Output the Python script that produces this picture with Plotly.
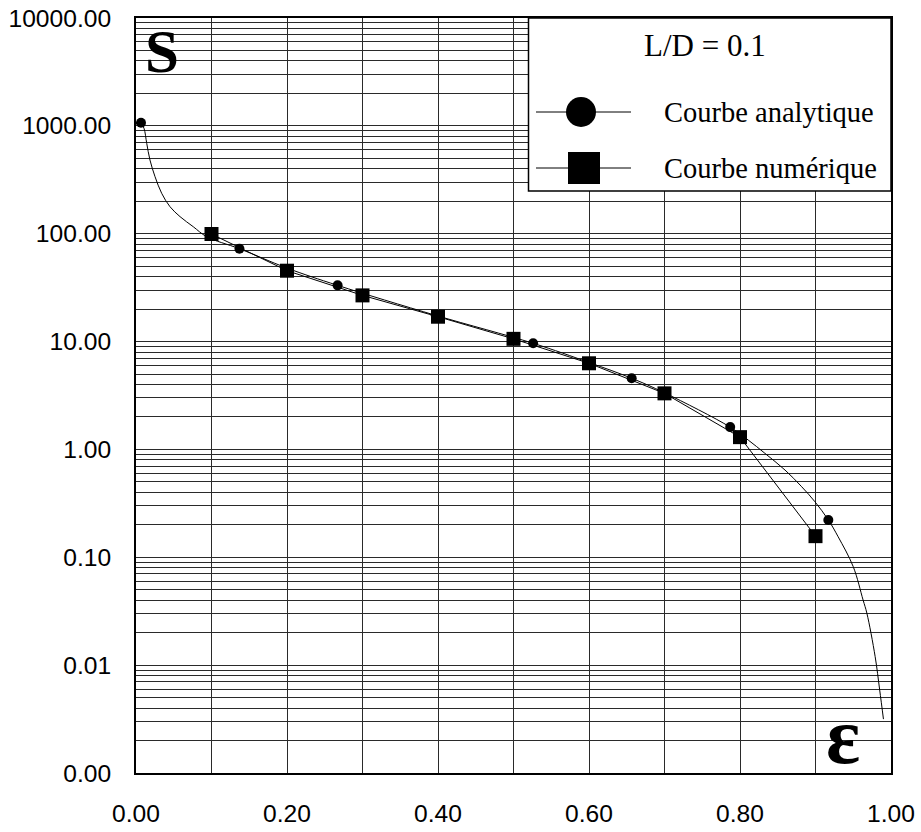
import plotly.graph_objects as go

# ---- data ----
analytic_curve_x = [0.0066, 0.0106, 0.0142, 0.0185, 0.0252, 0.0340, 0.0450, 0.0583, 0.0759,
                    0.0936, 0.137, 0.2, 0.267, 0.397, 0.526, 0.6, 0.6565, 0.7, 0.787,
                    0.811, 0.833, 0.8596, 0.8817, 0.8993, 0.917, 0.930, 0.950, 0.963,
                    0.968, 0.979, 0.985, 0.990]
analytic_curve_y = [1069, 949, 689, 482, 338, 237, 178, 144, 116,
                    93.8, 72.6, 48, 33.2, 17.5, 9.64, 6.4, 4.57, 3.35, 1.61,
                    1.22, 0.920, 0.644, 0.451, 0.327, 0.222, 0.155, 0.0818, 0.0402,
                    0.0304, 0.0120, 0.00589, 0.00316]
analytic_marker_x = [0.0066, 0.137, 0.267, 0.397, 0.526, 0.6565, 0.787, 0.917]
analytic_marker_y = [1069, 72.6, 33.2, 17.5, 9.64, 4.57, 1.61, 0.222]

numeric_x = [0.1, 0.2, 0.3, 0.4, 0.5, 0.6, 0.7, 0.8, 0.9]
numeric_y = [99.4, 45.4, 26.8, 17.0, 10.6, 6.29, 3.31, 1.30, 0.157]

x_tickvals = [0.0, 0.1, 0.2, 0.3, 0.4, 0.5, 0.6, 0.7, 0.8, 0.9, 1.0]
x_ticktext = ["0.00", "", "0.20", "", "0.40", "", "0.60", "", "0.80", "", "1.00"]
y_tickvals = [0.001, 0.01, 0.1, 1, 10, 100, 1000, 10000]
y_ticktext = ["0.00", "0.01", "0.10", "1.00", "10.00", "100.00", "1000.00", "10000.00"]
y_minor_vals = [m * 10 ** k for k in range(-3, 4) for m in range(2, 10)]

legend_title = "L/D = 0.1"
legend_names = ["Courbe analytique", "Courbe numérique"]

# ---- figure ----
fig = go.Figure()
fig.add_trace(go.Scatter(x=analytic_curve_x, y=analytic_curve_y, mode="lines",
                         line=dict(color="black", width=1, shape="spline", smoothing=1.0),
                         showlegend=False, hoverinfo="skip"))
fig.add_trace(go.Scatter(x=analytic_marker_x, y=analytic_marker_y, mode="markers",
                         marker=dict(symbol="circle", size=10, color="black"),
                         showlegend=False))
fig.add_trace(go.Scatter(x=numeric_x, y=numeric_y, mode="lines+markers",
                         line=dict(color="black", width=1),
                         marker=dict(symbol="square", size=14, color="black"),
                         showlegend=False))

GRID = "#2a2a2a"
tickfont = dict(family="Liberation Sans, Arial, sans-serif", size=24.6, color="black")

fig.update_xaxes(range=[0, 1], tickmode="array", tickvals=x_tickvals, ticktext=x_ticktext,
                 showgrid=True, gridcolor=GRID, gridwidth=1, zeroline=False,
                 showline=True, mirror=True, linecolor="black", linewidth=2,
                 ticks="", tickfont=tickfont, ticklabelstandoff=17, automargin=False)
fig.update_yaxes(type="log", range=[-3, 4], tickmode="array", tickvals=y_tickvals,
                 ticktext=y_ticktext, showgrid=True, gridcolor=GRID, gridwidth=1,
                 zeroline=False, showline=True, mirror=True, linecolor="black", linewidth=2,
                 ticks="", tickfont=tickfont, ticklabelstandoff=18, automargin=False,
                 minor=dict(tickmode="array", tickvals=y_minor_vals, showgrid=True,
                            gridcolor=GRID, gridwidth=1, ticks=""))

L, R, T, B = 136, 30, 18, 59
W, H = 921, 832
pw, ph = W - L - R, H - T - B


def px(xp):
    return (xp - L) / pw


def py(yp):
    return (H - B - yp) / ph


serif = "Liberation Serif, Times New Roman, serif"
shapes = []
annotations = []

# legend box
shapes.append(dict(type="rect", xref="paper", yref="paper", x0=px(528.5), x1=1.0,
                   y0=py(191), y1=1.0, fillcolor="white",
                   line=dict(color="black", width=1.5), layer="above"))
annotations.append(dict(xref="paper", yref="paper", x=px(705), y=py(46), text=legend_title,
                        showarrow=False, xanchor="center", yanchor="middle",
                        font=dict(family=serif, size=31, color="black")))
entry_y = [112, 168]
for i, name in enumerate(legend_names):
    yy = entry_y[i]
    shapes.append(dict(type="line", xref="paper", yref="paper", x0=px(536), x1=px(631),
                       y0=py(yy), y1=py(yy), line=dict(color="black", width=1), layer="above"))
    if i == 0:
        shapes.append(dict(type="circle", xref="paper", yref="paper",
                           x0=px(581 - 15), x1=px(581 + 15), y0=py(yy + 15), y1=py(yy - 15),
                           fillcolor="black", line=dict(color="black", width=0), layer="above"))
    else:
        shapes.append(dict(type="rect", xref="paper", yref="paper",
                           x0=px(584 - 16), x1=px(584 + 16), y0=py(yy + 16), y1=py(yy - 16),
                           fillcolor="black", line=dict(color="black", width=0), layer="above"))
    annotations.append(dict(xref="paper", yref="paper", x=px(662), y=py(yy), text=name,
                            showarrow=False, xanchor="left", yanchor="middle",
                            font=dict(family=serif, size=28.5, color="black")))

# axis letters
annotations.append(dict(xref="paper", yref="paper", x=px(162), y=py(52), text="<b>S</b>",
                        showarrow=False, xanchor="center", yanchor="middle",
                        font=dict(family=serif, size=61, color="black")))
annotations.append(dict(xref="paper", yref="paper", x=px(843), y=py(736), text="<b>ε</b>",
                        showarrow=False, xanchor="center", yanchor="middle",
                        font=dict(family=serif, size=80, color="black")))

fig.update_layout(width=W, height=H, margin=dict(l=L, r=R, t=T, b=B),
                  paper_bgcolor="white", plot_bgcolor="white",
                  shapes=shapes, annotations=annotations, showlegend=False)

fig.write_html("out.html")
